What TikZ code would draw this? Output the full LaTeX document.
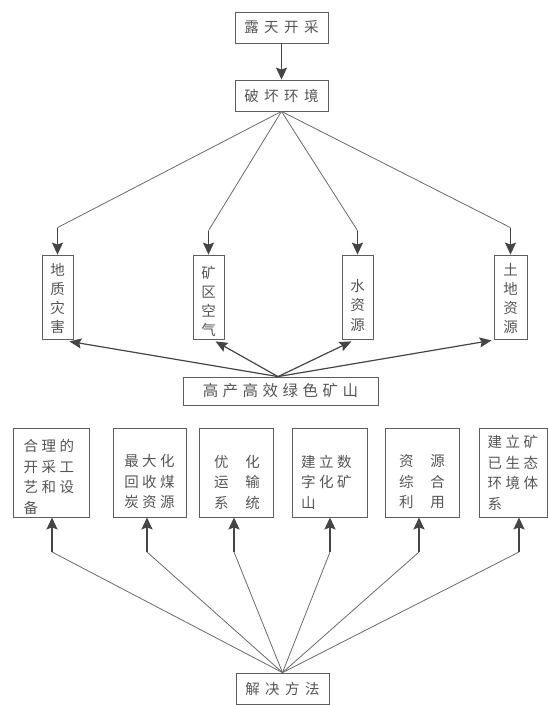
\documentclass[tikz,border=0pt]{standalone}
\usepackage{fontspec}
\newfontfamily\cjk{Noto Sans CJK SC}
\usetikzlibrary{arrows.meta,calc}
\definecolor{txtc}{HTML}{555555}
\definecolor{boxc}{HTML}{5E5E5E}
\definecolor{linec}{HTML}{6A6A6A}
\definecolor{arrc}{HTML}{454545}
\def\trkend{}
\newcommand\trk[2]{\def\trkamt{#1}\trkA#2\trkend}
\def\trkA#1#2{#1\ifx#2\trkend\else\kern\trkamt\relax\expandafter\trkA\expandafter#2\fi}
\begin{document}
\begin{tikzpicture}[x=1pt,y=-1pt,
  box/.style={draw=boxc,line width=0.8pt,inner sep=0pt,text=txtc,font=\cjk\fontsize{14.5}{19}\selectfont},
  txt/.style={inner sep=0pt,text=txtc,font=\cjk\fontsize{14.5}{20.5}\selectfont},
  fan/.style={draw=linec,line width=0.8pt},
  thk/.style={draw=arrc,line width=1.7pt,-{Stealth[length=12pt,width=11pt,inset=2pt]}},
  mid/.style={draw=arrc,line width=1.2pt,-{Stealth[length=12pt,width=10pt,inset=2pt]}}]
\useasboundingbox (0,0) rectangle (548,705);

% top chain
\node[box,minimum width=93pt,minimum height=31pt] (lt) at (281.5,27.5) {\trk{5.5pt}{露天开采}};
\node[box,minimum width=93pt,minimum height=31pt] (pk) at (281.5,95.5) {\trk{5.5pt}{破坏环境}};
\draw[thk] (lt.south) -- (pk.north);

% impact boxes
\node[box,minimum width=31pt,minimum height=84pt,align=center] (dz) at (57.5,297) {};
\node[txt,align=center,font=\cjk\fontsize{14.5}{19}\selectfont] (dzt) at (57.5,298.5) {地\\质\\灾\\害};
\node[box,minimum width=31pt,minimum height=84pt] (kq) at (208.5,297) {};
\node[txt,align=center,font=\cjk\fontsize{14.5}{19}\selectfont] (kqt) at (208.5,301) {矿\\区\\空\\气};
\node[box,minimum width=31pt,minimum height=84pt] (sz) at (357.5,297) {};
\node[txt,align=center,font=\cjk\fontsize{14.5}{19.5}\selectfont] (szt) at (357.5,305) {水\\资\\源};
\node[box,minimum width=33pt,minimum height=84pt] (td) at (510.5,297) {};
\node[txt,align=center,font=\cjk\fontsize{14.5}{19}\selectfont] (tdt) at (510.5,298.5) {土\\地\\资\\源};

\coordinate (c1) at ($(dz.north)+(0,-27)$);
\coordinate (c2) at ($(kq.north)+(0,-24)$);
\coordinate (c3) at ($(sz.north)+(0,-24)$);
\coordinate (c4) at ($(td.north)+(0,-27)$);
\foreach \c/\n in {c1/dz,c2/kq,c3/sz,c4/td}{
  \draw[fan] (pk.south) -- (\c);
  \draw[thk] (\c) -- (\n.north);
}

% green mine
\node[box,minimum width=195pt,minimum height=28pt,font=\cjk\fontsize{15.5}{19}\selectfont] (gm) at (280.5,391) {\trk{4.5pt}{高产高效绿色矿山}};
\coordinate (g0) at ($(gm.north)+(-2.5,0)$);
\draw[mid] (g0) -- ($(dz.south east)+(-4,2)$);
\draw[mid] (g0) -- ($(kq.south)+(7,2)$);
\draw[mid] (g0) -- ($(sz.south)+(-6,2)$);
\draw[mid] (g0) -- ($(td.south west)+(-2,1)$);

% solution boxes
\node[box,minimum width=76pt,minimum height=89pt] (b1) at (51,472.5) {};
\node[box,minimum width=73pt,minimum height=89pt] (b2) at (149.5,472.5) {};
\node[box,minimum width=74pt,minimum height=89pt] (b3) at (236,472.5) {};
\node[box,minimum width=75pt,minimum height=89pt] (b4) at (329.5,472.5) {};
\node[box,minimum width=74pt,minimum height=89pt] (b5) at (422,472.5) {};
\node[box,minimum width=68pt,minimum height=89pt] (b6) at (513,472.5) {};

\node[txt,align=left,anchor=west] (b1t) at (23.5,477) {\trk{3.5pt}{合理的}\\\trk{3.5pt}{开采工}\\\trk{3.5pt}{艺和设}\\备};
\node[txt,align=center] (b2t) at (149.5,482) {\trk{3.5pt}{最大化}\\\trk{3.5pt}{回收煤}\\\trk{3.5pt}{炭资源}};
\node[txt,align=center] (b3t) at (237,482) {\trk{17pt}{优化}\\\trk{17pt}{运输}\\\trk{17pt}{系统}};
\node[txt,align=left,anchor=west] (b4t) at (301,482) {\trk{3.5pt}{建立数}\\\trk{3.5pt}{字化矿}\\山};
\node[txt,align=center] (b5t) at (422,482) {\trk{17pt}{资源}\\\trk{17pt}{综合}\\\trk{17pt}{利用}};
\node[txt,align=left,anchor=west] (b6t) at (487.5,473) {\trk{3.5pt}{建立矿}\\\trk{3.5pt}{已生态}\\\trk{3.5pt}{环境体}\\系};

% method
\node[box,minimum width=93pt,minimum height=31pt] (jj) at (282.5,688.5) {\trk{5.5pt}{解决方法}};

\coordinate (d1) at (52,552);
\coordinate (d2) at (147,552);
\coordinate (d3) at (234,552);
\coordinate (d4) at (330,552);
\coordinate (d5) at (419,552);
\coordinate (d6) at (519,552);
\foreach \d/\n in {d1/b1,d2/b2,d3/b3,d4/b4,d5/b5,d6/b6}{
  \draw[fan] (jj.north) -- (\d);
  \draw[thk] (\d) -- (\d |- \n.south);
}
\end{tikzpicture}
\end{document}
